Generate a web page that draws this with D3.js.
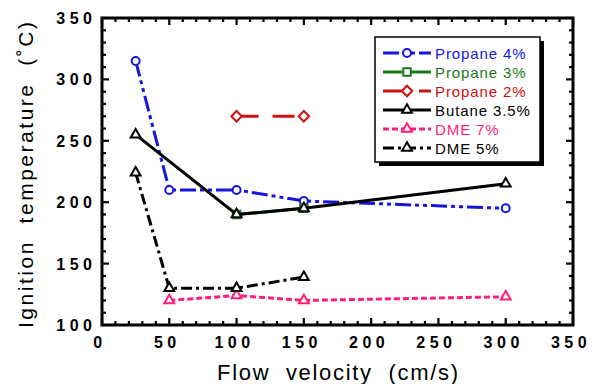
<!DOCTYPE html>
<html>
<head>
<meta charset="utf-8">
<script src="https://cdn.jsdelivr.net/npm/d3@7"></script>
<style>
  body { margin: 0; background: #fff; }
  text { font-family: "Liberation Sans", Arial, sans-serif; }
</style>
</head>
<body>
<svg id="chart" width="594" height="384"></svg>
<script>
// data
const propane4X = [25, 50, 100, 150, 300];
const propane4Y = [315, 210, 210, 201, 195];
const propane3X = [100, 150];
const propane3Y = [190, 195];
const propane2X = [100, 150];
const propane2Y = [270, 270];
const butaneX = [25, 100, 150, 300];
const butaneY = [255, 190, 195, 215];
const dme7X = [50, 100, 150, 300];
const dme7Y = [120, 124, 120, 123];
const dme5X = [25, 50, 100, 150];
const dme5Y = [224, 130, 130, 139];

const seriesNames = ['Propane 4%', 'Propane 3%', 'Propane 2%', 'Butane 3.5%', 'DME 7%', 'DME 5%'];
const xTicks = [0, 50, 100, 150, 200, 250, 300, 350];
const yTicks = [100, 150, 200, 250, 300, 350];

const series = [
  { name: seriesNames[0], xs: propane4X, ys: propane4Y, color: '#1515e0', dash: '16,4,4,4,4,4', marker: 'circle' },
  { name: seriesNames[1], xs: propane3X, ys: propane3Y, color: '#1a7a1a', dash: null, marker: 'square' },
  { name: seriesNames[2], xs: propane2X, ys: propane2Y, color: '#cc1111', dash: '22,14', marker: 'diamond' },
  { name: seriesNames[3], xs: butaneX, ys: butaneY, color: '#000', dash: null, marker: 'triangle' },
  { name: seriesNames[4], xs: dme7X, ys: dme7Y, color: '#ff1f7a', dash: '6,3', marker: 'triangle' },
  { name: seriesNames[5], xs: dme5X, ys: dme5Y, color: '#000', dash: '11,4,3,4', marker: 'triangle' }
];

const plotLeft = 102, plotRight = 573, plotTop = 18, plotBottom = 325;

const svg = d3.select('#chart');

const x = d3.scaleLinear().domain([0, 350]).range([plotLeft, plotRight]);
const y = d3.scaleLinear().domain([100, 350]).range([plotBottom, plotTop]);

const symbolFor = m => {
  if (m === 'circle') return d3.symbol().type(d3.symbolCircle).size(50);
  if (m === 'square') return d3.symbol().type(d3.symbolSquare).size(56);
  if (m === 'diamond') return d3.symbol().type(d3.symbolDiamond2 || d3.symbolDiamond).size(70);
  return d3.symbol().type(d3.symbolTriangle).size(42);
};

// ticks on all 4 sides, pointing inward
const minorX = d3.range(0, 351, 10);
const minorY = d3.range(100, 351, 10);
const tickG = svg.append('g').attr('stroke', '#000').attr('stroke-width', 2.2);
minorX.forEach(v => {
  const len = v % 50 === 0 ? 7 : 4;
  tickG.append('line').attr('x1', x(v)).attr('x2', x(v)).attr('y1', plotBottom).attr('y2', plotBottom - len);
  tickG.append('line').attr('x1', x(v)).attr('x2', x(v)).attr('y1', plotTop).attr('y2', plotTop + len);
});
minorY.forEach(v => {
  const len = v % 50 === 0 ? 7 : 4;
  tickG.append('line').attr('y1', y(v)).attr('y2', y(v)).attr('x1', plotLeft).attr('x2', plotLeft + len);
  tickG.append('line').attr('y1', y(v)).attr('y2', y(v)).attr('x1', plotRight).attr('x2', plotRight - len);
});

svg.append('rect')
  .attr('x', plotLeft).attr('y', plotTop)
  .attr('width', plotRight - plotLeft).attr('height', plotBottom - plotTop)
  .attr('fill', 'none').attr('stroke', '#000').attr('stroke-width', 3);

// tick labels
const ls = 4.5;
svg.append('g').selectAll('text').data(xTicks).join('text')
  .attr('x', d => x(d) - 2)
  .attr('y', 348)
  .attr('text-anchor', 'middle')
  .attr('font-size', 16).attr('font-weight', 'bold')
  .attr('letter-spacing', ls)
  .text(d => d);

svg.append('g').selectAll('text').data(yTicks).join('text')
  .attr('x', 92 + ls)
  .attr('y', d => y(d) + 6)
  .attr('text-anchor', 'end')
  .attr('font-size', 16).attr('font-weight', 'bold')
  .attr('letter-spacing', ls)
  .text(d => d);

// axis titles
svg.append('text')
  .attr('x', 217).attr('y', 380)
  .attr('font-size', 22)
  .attr('textLength', 241).attr('lengthAdjust', 'spacing')
  .style('white-space', 'pre')
  .text('Flow  velocity  (cm/s)');

svg.append('text')
  .attr('transform', 'translate(33,328) rotate(-90)')
  .attr('font-size', 21)
  .attr('textLength', 306).attr('lengthAdjust', 'spacing')
  .style('white-space', 'pre')
  .text('Ignition  temperature  (\u02DAC)');

// lines + markers
const line = d3.line().x(d => x(d[0])).y(d => y(d[1]));
const plot = svg.append('g');
series.forEach(s => {
  const pts = s.xs.map((v, i) => [v, s.ys[i]]);
  plot.append('path')
    .datum(pts)
    .attr('d', line)
    .attr('fill', 'none')
    .attr('stroke', s.color)
    .attr('stroke-width', 3)
    .attr('stroke-dasharray', s.dash);
  plot.append('g').selectAll('path').data(pts).join('path')
    .attr('transform', d => 'translate(' + x(d[0]) + ',' + y(d[1]) + ')')
    .attr('d', symbolFor(s.marker)())
    .attr('fill', '#fff')
    .attr('stroke', s.color)
    .attr('stroke-width', 2);
});

// legend
const lg = svg.append('g');
lg.append('rect').attr('x', 379).attr('y', 41).attr('width', 165).attr('height', 125).attr('fill', '#000');
lg.append('rect').attr('x', 375).attr('y', 37).attr('width', 165).attr('height', 125)
  .attr('fill', '#fff').attr('stroke', '#000').attr('stroke-width', 1.5);

series.forEach((s, i) => {
  const ry = 53 + i * 19;
  lg.append('line')
    .attr('x1', 383).attr('x2', 431).attr('y1', ry).attr('y2', ry)
    .attr('stroke', s.color).attr('stroke-width', 3)
    .attr('stroke-dasharray', s.dash);
  lg.append('path')
    .attr('transform', 'translate(407,' + ry + ')')
    .attr('d', symbolFor(s.marker)())
    .attr('fill', '#fff').attr('stroke', s.color).attr('stroke-width', 2);
  lg.append('text')
    .attr('x', 435).attr('y', ry + 5.5)
    .attr('font-size', 15)
    .attr('letter-spacing', 0.9)
    .attr('fill', s.color)
    .text(s.name);
});
</script>
</body>
</html>
